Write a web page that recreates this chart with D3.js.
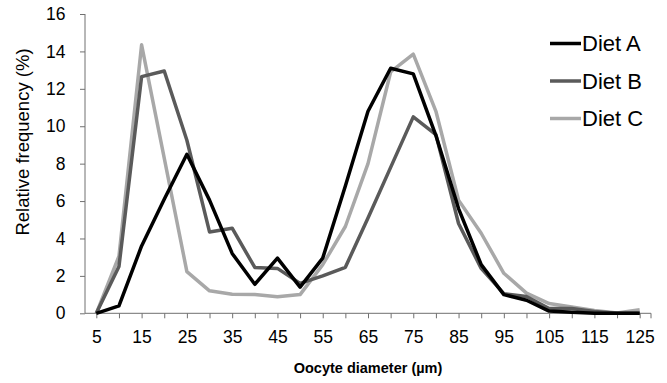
<!DOCTYPE html>
<html>
<head>
<meta charset="utf-8">
<script src="https://cdn.jsdelivr.net/npm/d3@7"></script>
<style>
  html, body { margin: 0; padding: 0; background: #fff; }
  svg { display: block; font-family: "Liberation Sans", Arial, sans-serif; }
</style>
</head>
<body>
<svg id="chart" width="667" height="383"></svg>
<script>
// oocyte diameter classes (µm)
const sizes = [5, 10, 15, 20, 25, 30, 35, 40, 45, 50, 55, 60, 65, 70, 75, 80, 85, 90, 95, 100, 105, 110, 115, 120, 125];

// relative frequency (%) per diet
const dietA = [0, 0.4, 3.6, 6.1, 8.5, 6.05, 3.2, 1.55, 2.95, 1.4, 2.95, 6.8, 10.8, 13.1, 12.8, 9.5, 5.6, 2.6, 1.0, 0.7, 0.12, 0.05, 0, 0, 0];
const dietB = [0, 2.5, 12.65, 12.95, 9.25, 4.35, 4.55, 2.45, 2.4, 1.6, 2.0, 2.46, 5.1, 7.8, 10.5, 9.55, 4.8, 2.4, 1.05, 0.9, 0.26, 0.26, 0.1, 0, 0];
const dietC = [0, 3.05, 14.35, 8.3, 2.23, 1.2, 1.02, 1.0, 0.89, 1.0, 2.6, 4.64, 8.0, 12.9, 13.85, 10.8, 6.05, 4.28, 2.14, 1.08, 0.52, 0.34, 0.15, 0.02, 0.19];

const seriesNames = ["Diet A", "Diet B", "Diet C"];
const yTicks = [0, 2, 4, 6, 8, 10, 12, 14, 16];

const series = [
  { name: seriesNames[0], values: dietA, color: "#000000" },
  { name: seriesNames[1], values: dietB, color: "#5a5a5a" },
  { name: seriesNames[2], values: dietC, color: "#a8a8a8" },
];

const axisColor = "#707070";
const plot = { left: 85, right: 651, top: 14, bottom: 313.3 };

const svg = d3.select("#chart");

const x = d3.scalePoint().domain(sizes).range([plot.left, plot.right]).padding(0.5);
const y = d3.scaleLinear().domain([0, 16]).range([plot.bottom, plot.top]);

// y axis
const yAxis = svg.append("g")
  .attr("transform", `translate(${plot.left},0)`)
  .call(d3.axisLeft(y).tickValues(yTicks).tickSize(5).tickPadding(14.5));
yAxis.select(".domain").attr("stroke", axisColor).attr("d", `M0,${plot.top}V${plot.bottom}`);
yAxis.selectAll(".tick line").attr("stroke", axisColor);
yAxis.selectAll(".tick text").attr("fill", "#000").style("font-size", "17.5px");

// x axis
const xAxis = svg.append("g")
  .attr("transform", `translate(0,${plot.bottom})`)
  .call(d3.axisBottom(x).tickSize(5).tickPadding(12)
    .tickFormat((d) => ((d - 5) % 10 === 0 ? d : "")));
xAxis.select(".domain").attr("stroke", axisColor).attr("d", `M${plot.left},0H${plot.right}`);
xAxis.selectAll(".tick line").attr("stroke", axisColor);
xAxis.selectAll(".tick text").attr("fill", "#000").style("font-size", "17.5px");
xAxis.append("line")
  .attr("x1", plot.right).attr("x2", plot.right)
  .attr("y1", 0).attr("y2", 5)
  .attr("stroke", axisColor);

// lines, light first so black sits on top
const line = d3.line()
  .x((d, i) => x(sizes[i]))
  .y((d) => y(d));

svg.append("g")
  .selectAll("path")
  .data(series.slice().reverse())
  .join("path")
  .attr("d", (d) => line(d.values))
  .attr("fill", "none")
  .attr("stroke", (d) => d.color)
  .attr("stroke-width", 3.5)
  .attr("stroke-linejoin", "round");

// legend
const legend = svg.append("g");
series.forEach((s, i) => {
  const ly = 43.5 + i * 37.5;
  legend.append("line")
    .attr("x1", 550).attr("x2", 581)
    .attr("y1", ly).attr("y2", ly)
    .attr("stroke", s.color)
    .attr("stroke-width", 3.5);
  legend.append("text")
    .attr("x", 582)
    .attr("y", ly)
    .attr("dy", "0.36em")
    .style("font-size", "22px")
    .attr("fill", "#000")
    .text(s.name);
});

// axis titles
svg.append("text")
  .attr("transform", "translate(28.5,142) rotate(-90)")
  .attr("text-anchor", "middle")
  .style("font-size", "18.5px")
  .attr("fill", "#000")
  .text("Relative frequency (%)");

svg.append("text")
  .attr("x", 368)
  .attr("y", 372.5)
  .attr("text-anchor", "middle")
  .style("font-size", "14.5px")
  .style("font-weight", "bold")
  .attr("fill", "#000")
  .text("Oocyte diameter (µm)");
</script>
</body>
</html>
